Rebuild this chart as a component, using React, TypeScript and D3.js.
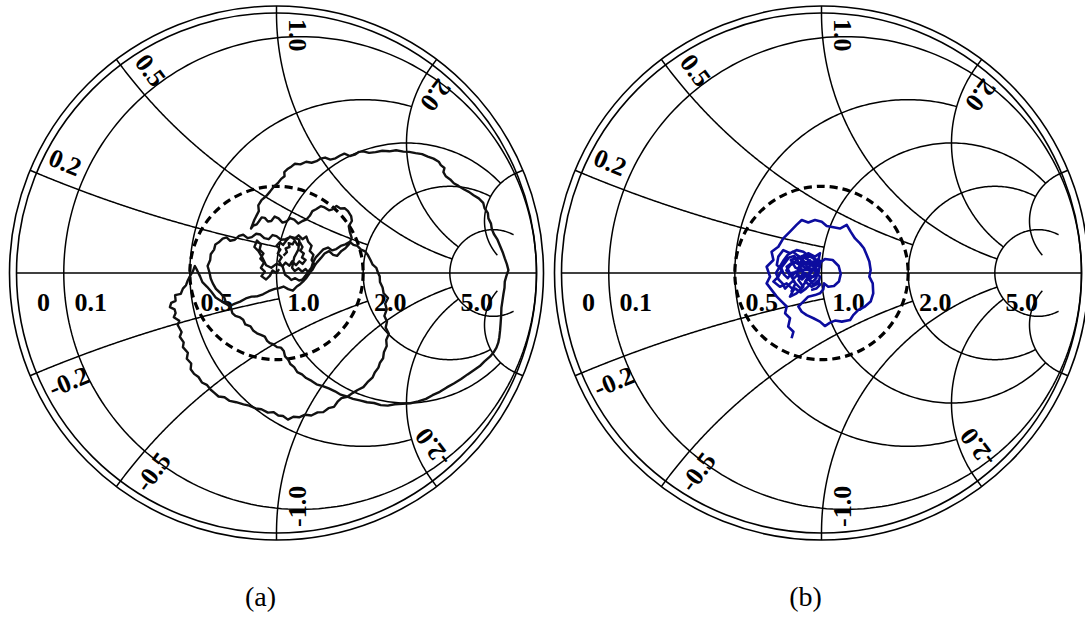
import React from 'react';
import * as d3 from 'd3';

// page + chart geometry
const width = 1085;
const height = 619;
const radius = 260;
const ringGap = 7;
const panelCenters = [276.5, 821.5];
const centerY = 273;

// Smith grid: circles and the limit up to which each one is drawn
const resistanceCircles = [0.1, 0.5, 1, 2, 5];
const resistanceLimits = [Infinity, 2, 5, 5, 10];
const reactanceArcs = [0.2, 0.5, 1, 2, 5];
const reactanceLimits = [1, 2, 5, 5, 10];

const axisTickValues = [0, 0.1, 0.5, 1, 2, 5];
const axisTickLabels = ['0', '0.1', '0.5', '1.0', '2.0', '5.0'];
const arcTickValues = [0.2, 0.5, 1, 2];
const arcTickLabels = ['0.2', '0.5', '1.0', '2.0'];

const vswrGamma = 1 / 3;
const panelLabels = ['(a)', '(b)'];
const traceColors = ['#111111', '#0c0c9e'];
const traceWidths = [2.4, 2.6];

// reflection coefficient traces, [re, im]
const traceA: [number, number][] = [
  [0.027, 0.067], [0.04, 0.08], [0.035, 0.095], [0.05, 0.1], [0.047, 0.115],
  [0.062, 0.11], [0.07, 0.125], [0.08, 0.108], [0.09, 0.118], [0.1, 0.1],
  [0.092, 0.085], [0.105, 0.075], [0.098, 0.06], [0.112, 0.05], [0.1, 0.035],
  [0.088, 0.045], [0.075, 0.03], [0.06, 0.045], [0.05, 0.028], [0.035, 0.04],
  [0.022, 0.025], [0.01, 0.045], [0.02, 0.06], [0.005, 0.075], [0.015, 0.09],
  [0.0, 0.105], [0.012, 0.118], [0.025, 0.108], [0.038, 0.125], [0.052, 0.14],
  [0.068, 0.13], [0.085, 0.145], [0.1, 0.13], [0.115, 0.14], [0.122, 0.12],
  [0.135, 0.105], [0.128, 0.085], [0.142, 0.07], [0.135, 0.05], [0.148, 0.03],
  [0.138, 0.012], [0.125, 0.0], [0.112, 0.015], [0.098, 0.005], [0.085, 0.018],
  [0.07, 0.008], [0.06, 0.02], [0.068, 0.06], [0.084, 0.09], [0.088, 0.128],
  [0.07, 0.135], [0.055, 0.139], [0.035, 0.13], [0.017, 0.128], [0.0, 0.142],
  [-0.015, 0.146], [-0.03, 0.13], [-0.047, 0.134], [-0.062, 0.148], [-0.078, 0.151],
  [-0.095, 0.138], [-0.111, 0.134], [-0.128, 0.147], [-0.144, 0.143], [-0.16, 0.128],
  [-0.178, 0.124], [-0.192, 0.137], [-0.207, 0.132], [-0.222, 0.118], [-0.235, 0.11],
  [-0.24, 0.09], [-0.253, 0.072], [-0.255, 0.05], [-0.265, 0.027], [-0.258, 0.003],
  [-0.253, -0.021], [-0.245, -0.04], [-0.233, -0.061], [-0.218, -0.075], [-0.201, -0.094],
  [-0.195, -0.112], [-0.182, -0.128], [-0.16, -0.118], [-0.14, -0.11], [-0.118, -0.098],
  [-0.096, -0.091], [-0.075, -0.09], [-0.052, -0.082], [-0.03, -0.07], [-0.007, -0.061],
  [0.01, -0.058], [0.027, -0.052], [0.045, -0.062], [0.063, -0.068], [0.078, -0.052],
  [0.091, -0.043], [0.105, -0.03], [0.115, -0.019], [0.128, 0.0], [0.138, 0.016],
  [0.155, 0.04], [0.172, 0.059], [0.185, 0.075], [0.202, 0.084], [0.218, 0.07],
  [0.233, 0.066], [0.25, 0.085], [0.265, 0.095], [0.28, 0.112], [0.289, 0.136],
  [0.282, 0.158], [0.278, 0.18], [0.29, 0.2], [0.287, 0.219], [0.275, 0.238],
  [0.263, 0.249], [0.246, 0.248], [0.231, 0.258], [0.215, 0.245], [0.202, 0.241],
  [0.185, 0.252], [0.17, 0.257], [0.152, 0.245], [0.138, 0.238], [0.128, 0.22],
  [0.114, 0.205], [0.1, 0.2], [0.084, 0.19], [0.068, 0.205], [0.052, 0.211],
  [0.038, 0.198], [0.023, 0.194], [0.008, 0.21], [-0.007, 0.217], [-0.02, 0.2],
  [-0.033, 0.198], [-0.045, 0.212], [-0.057, 0.214], [-0.068, 0.198], [-0.076, 0.187],
  [-0.09, 0.182], [-0.098, 0.171], [-0.085, 0.205], [-0.068, 0.238], [-0.07, 0.26],
  [-0.057, 0.281], [-0.04, 0.295], [-0.025, 0.313], [-0.012, 0.33], [0.007, 0.348],
  [0.018, 0.362], [0.031, 0.372], [0.03, 0.388], [0.044, 0.401], [0.058, 0.41],
  [0.071, 0.42], [0.092, 0.418], [0.114, 0.428], [0.135, 0.424], [0.154, 0.43],
  [0.17, 0.44], [0.187, 0.444], [0.207, 0.436], [0.227, 0.441], [0.245, 0.452],
  [0.261, 0.459], [0.282, 0.45], [0.301, 0.455], [0.318, 0.466], [0.334, 0.468],
  [0.356, 0.462], [0.381, 0.465], [0.407, 0.47], [0.434, 0.468], [0.46, 0.472],
  [0.488, 0.467], [0.51, 0.466], [0.535, 0.461], [0.56, 0.457], [0.582, 0.448],
  [0.604, 0.44], [0.624, 0.428], [0.632, 0.415], [0.646, 0.404], [0.642, 0.388],
  [0.651, 0.372], [0.668, 0.36], [0.682, 0.345], [0.7, 0.335], [0.722, 0.321],
  [0.74, 0.312], [0.758, 0.299], [0.778, 0.287], [0.795, 0.27], [0.8, 0.25],
  [0.813, 0.23], [0.815, 0.21], [0.825, 0.19], [0.828, 0.17], [0.836, 0.15],
  [0.85, 0.128], [0.86, 0.104], [0.87, 0.08], [0.878, 0.056], [0.886, 0.034],
  [0.892, 0.011], [0.884, -0.012], [0.878, -0.033], [0.877, -0.057], [0.873, -0.08],
  [0.869, -0.107], [0.865, -0.134], [0.864, -0.165], [0.862, -0.194], [0.86, -0.22],
  [0.857, -0.247], [0.853, -0.268], [0.846, -0.287], [0.835, -0.305], [0.822, -0.321],
  [0.8, -0.34], [0.782, -0.358], [0.76, -0.373], [0.735, -0.39], [0.71, -0.408],
  [0.682, -0.425], [0.655, -0.44], [0.628, -0.457], [0.6, -0.47], [0.575, -0.484],
  [0.545, -0.494], [0.515, -0.501], [0.485, -0.503], [0.455, -0.505], [0.428, -0.51],
  [0.401, -0.508], [0.375, -0.5], [0.348, -0.497], [0.32, -0.49], [0.294, -0.484],
  [0.27, -0.475], [0.247, -0.468], [0.225, -0.455], [0.201, -0.444], [0.178, -0.435],
  [0.154, -0.428], [0.135, -0.415], [0.114, -0.404], [0.098, -0.39], [0.08, -0.381],
  [0.068, -0.362], [0.053, -0.35], [0.045, -0.333], [0.033, -0.321], [0.028, -0.3],
  [0.017, -0.287], [0.002, -0.285], [-0.013, -0.274], [-0.025, -0.27], [-0.036, -0.261],
  [-0.045, -0.245], [-0.06, -0.238], [-0.075, -0.232], [-0.09, -0.221], [-0.1, -0.205],
  [-0.12, -0.198], [-0.128, -0.18], [-0.14, -0.171], [-0.158, -0.165], [-0.17, -0.154],
  [-0.175, -0.135], [-0.187, -0.123], [-0.21, -0.11], [-0.234, -0.094], [-0.252, -0.07],
  [-0.267, -0.053], [-0.285, -0.035], [-0.294, -0.013], [-0.305, 0.01], [-0.314, 0.027],
  [-0.322, 0.005], [-0.33, -0.007], [-0.342, -0.03], [-0.348, -0.047], [-0.36, -0.06],
  [-0.368, -0.08], [-0.39, -0.085], [-0.388, -0.107], [-0.405, -0.115], [-0.41, -0.131],
  [-0.392, -0.14], [-0.388, -0.154], [-0.395, -0.17], [-0.374, -0.184], [-0.38, -0.2],
  [-0.365, -0.227], [-0.372, -0.245], [-0.357, -0.267], [-0.36, -0.285], [-0.341, -0.307],
  [-0.345, -0.33], [-0.328, -0.348], [-0.33, -0.37], [-0.317, -0.388], [-0.3, -0.4],
  [-0.287, -0.421], [-0.268, -0.43], [-0.254, -0.448], [-0.24, -0.46], [-0.223, -0.475],
  [-0.2, -0.478], [-0.18, -0.492], [-0.155, -0.497], [-0.127, -0.505], [-0.105, -0.51],
  [-0.08, -0.521], [-0.058, -0.524], [-0.033, -0.537], [-0.012, -0.535], [0.007, -0.548],
  [0.025, -0.55], [0.044, -0.564], [0.065, -0.553], [0.087, -0.555], [0.11, -0.545],
  [0.134, -0.548], [0.158, -0.536], [0.18, -0.535], [0.2, -0.52], [0.221, -0.515],
  [0.235, -0.495], [0.25, -0.481], [0.272, -0.476], [0.294, -0.461], [0.312, -0.45],
  [0.334, -0.439], [0.35, -0.42], [0.37, -0.401], [0.378, -0.383], [0.392, -0.364],
  [0.398, -0.345], [0.41, -0.328], [0.413, -0.305], [0.424, -0.281], [0.422, -0.258],
  [0.432, -0.234], [0.42, -0.21], [0.425, -0.187], [0.415, -0.165], [0.424, -0.14],
  [0.418, -0.118], [0.429, -0.096], [0.412, -0.078], [0.408, -0.056], [0.398, -0.035],
  [0.397, -0.013], [0.39, 0.002], [0.384, 0.02], [0.37, 0.032], [0.361, 0.051],
  [0.352, 0.068], [0.341, 0.083], [0.325, 0.09], [0.311, 0.104], [0.296, 0.108],
  [0.282, 0.12], [0.265, 0.11], [0.247, 0.104], [0.23, 0.092], [0.214, 0.087],
  [0.198, 0.098], [0.18, 0.091], [0.165, 0.075], [0.151, 0.06], [0.14, 0.04],
  [0.134, 0.02], [0.122, 0.005], [0.111, -0.011], [0.1, -0.025], [0.087, -0.029],
  [0.072, -0.02], [0.057, -0.027], [0.045, -0.015], [0.033, -0.007], [0.028, 0.01],
  [0.023, 0.027], [0.0, 0.035], [-0.02, 0.02], [-0.04, 0.03], [-0.055, 0.06],
  [-0.07, 0.085], [-0.085, 0.1], [-0.075, 0.125], [-0.06, 0.11], [-0.065, 0.09],
  [-0.05, 0.075], [-0.062, 0.055], [-0.048, 0.04], [-0.06, 0.02], [-0.045, 0.005],
  [-0.058, -0.012], [-0.04, -0.025], [-0.025, -0.01], [-0.015, 0.01], [0.0, 0.0],
  [0.01, 0.015],
];

const traceB: [number, number][] = [
  [-0.115, -0.251], [-0.108, -0.226], [-0.128, -0.206], [-0.121, -0.174], [-0.14, -0.155],
  [-0.134, -0.129], [-0.153, -0.11], [-0.172, -0.091], [-0.192, -0.065], [-0.211, -0.04],
  [-0.198, -0.014], [-0.211, 0.024], [-0.185, 0.05], [-0.192, 0.082], [-0.166, 0.101],
  [-0.147, 0.133], [-0.121, 0.159], [-0.096, 0.185], [-0.076, 0.204], [-0.051, 0.194],
  [-0.025, 0.204], [0.001, 0.197], [0.02, 0.181], [0.046, 0.176], [0.071, 0.171],
  [0.097, 0.185], [0.112, 0.159], [0.129, 0.133], [0.148, 0.114], [0.163, 0.095],
  [0.174, 0.069], [0.184, 0.044], [0.189, 0.012], [0.184, -0.014], [0.197, -0.04],
  [0.199, -0.078], [0.189, -0.11], [0.167, -0.129], [0.142, -0.142], [0.122, -0.162],
  [0.11, -0.181], [0.078, -0.187], [0.052, -0.183], [0.033, -0.191], [0.013, -0.204],
  [-0.006, -0.187], [-0.031, -0.174], [-0.057, -0.162], [-0.076, -0.149], [-0.089, -0.129],
  [-0.07, -0.11], [-0.051, -0.091], [-0.025, -0.085], [-0.006, -0.078], [0.007, -0.063],
  [0.01, -0.04], [0.026, -0.053], [0.048, -0.05], [0.067, -0.033], [0.074, -0.004],
  [0.066, 0.027], [0.043, 0.05], [0.013, 0.054], [0.001, 0.044], [-0.019, 0.05],
  [-0.044, 0.063], [-0.07, 0.082], [-0.096, 0.088], [-0.121, 0.076], [-0.147, 0.088],
  [-0.166, 0.063], [-0.172, 0.031], [-0.153, 0.012], [-0.166, -0.014], [-0.185, -0.033],
  [-0.16, -0.053], [-0.134, -0.04], [-0.108, -0.065], [-0.121, -0.091], [-0.096, -0.078],
  [-0.07, -0.053], [-0.089, -0.027], [-0.063, -0.001], [-0.044, -0.021], [-0.019, -0.008],
  [-0.006, 0.024], [-0.031, 0.037], [-0.057, 0.018], [-0.083, 0.031], [-0.108, 0.044],
  [-0.134, 0.024], [-0.121, -0.001], [-0.096, -0.001], [-0.076, 0.05], [-0.051, 0.076],
  [-0.025, 0.063], [-0.006, 0.076], [-0.016, 0.031], [-0.038, 0.005], [-0.063, -0.033],
  [-0.038, -0.053], [-0.012, -0.04], [-0.006, -0.014], [-0.031, 0.012], [-0.07, 0.012],
  [-0.1, 0.02], [-0.118, 0.05], [-0.09, 0.06], [-0.06, 0.04], [-0.02, 0.02],
  [-0.115, 0.0], [-0.13, -0.02], [-0.145, -0.005], [-0.155, 0.02], [-0.14, 0.04],
  [-0.125, 0.06], [-0.105, 0.065], [-0.09, 0.045], [-0.075, 0.025], [-0.06, 0.04],
  [-0.045, 0.05], [-0.03, 0.03], [-0.015, 0.01], [-0.02, -0.02], [-0.035, -0.035],
  [-0.05, -0.02], [-0.065, -0.04], [-0.08, -0.06], [-0.095, -0.045], [-0.11, -0.03],
  [-0.125, -0.045], [-0.14, -0.06], [-0.15, -0.04], [-0.165, -0.025], [-0.175, 0.0],
  [-0.16, 0.025], [-0.145, 0.05], [-0.13, 0.07], [-0.11, 0.082], [-0.095, 0.07],
  [-0.08, 0.06], [-0.065, 0.07], [-0.045, 0.04], [-0.025, 0.045], [-0.01, 0.055],
  [-0.005, 0.035], [-0.012, 0.0], [-0.025, -0.025], [-0.045, -0.045], [-0.06, -0.06],
  [-0.08, -0.075], [-0.1, -0.06], [-0.115, -0.07], [-0.1, -0.04], [-0.115, -0.015],
  [-0.1, 0.005], [-0.085, -0.02], [-0.07, 0.0], [-0.085, 0.025], [-0.07, 0.045],
  [-0.055, 0.025], [-0.04, 0.015], [-0.05, -0.005], [-0.035, -0.015], [-0.02, 0.0],
  [-0.03, 0.02], [-0.015, 0.035], [-0.03, 0.055], [-0.045, 0.065], [-0.06, 0.055],
  [-0.075, 0.065], [-0.09, 0.055], [-0.105, 0.04], [-0.12, 0.03], [-0.135, 0.01],
  [-0.12, -0.01], [-0.105, -0.02], [-0.09, -0.005], [-0.075, -0.025], [-0.06, -0.01],
  [-0.045, -0.03], [-0.03, -0.045], [-0.015, -0.03], [-0.005, -0.045], [-0.02, -0.06],
  [-0.04, -0.065],
];

const traces = [traceA, traceB];

const toGamma = (r: number, x: number): [number, number] => {
  if (!isFinite(r)) return [1, 0];
  const d = (r + 1) * (r + 1) + x * x;
  return [(r * r + x * x - 1) / d, (2 * x) / d];
};

const arcPoints = (c: [number, number], rho: number, a0: number, a1: number) =>
  d3.range(0, 241).map(i => {
    const a = a0 + ((a1 - a0) * i) / 240;
    return [c[0] + rho * Math.cos(a), c[1] + rho * Math.sin(a)] as [number, number];
  });

const resistancePoints = (r: number, limit: number) => {
  const c: [number, number] = [r / (1 + r), 0];
  const rho = 1 / (1 + r);
  if (!isFinite(limit)) return arcPoints(c, rho, 0, 2 * Math.PI);
  const p = toGamma(r, limit);
  const phi = Math.atan2(p[1], p[0] - c[0]);
  return arcPoints(c, rho, phi, 2 * Math.PI - phi);
};

const reactancePoints = (x: number, limit: number) => {
  const c: [number, number] = [1, 1 / x];
  const rho = 1 / Math.abs(x);
  const p0 = toGamma(0, x);
  const p1 = toGamma(limit, x);
  const a0 = Math.atan2(p0[1] - c[1], p0[0] - c[0]);
  const a1 = Math.atan2(p1[1] - c[1], p1[0] - c[0]);
  let delta = a1 - a0;
  while (delta > Math.PI) delta -= 2 * Math.PI;
  while (delta <= -Math.PI) delta += 2 * Math.PI;
  return arcPoints(c, rho, a0, a0 + delta);
};

const font = '"Liberation Serif", "Times New Roman", serif';

const SmithPanel = ({ cx, trace, color, strokeWidth, label }: {
  cx: number; trace: [number, number][]; color: string; strokeWidth: number; label: string;
}) => {
  const sx = d3.scaleLinear().domain([-1, 1]).range([cx - radius, cx + radius]);
  const sy = d3.scaleLinear().domain([-1, 1]).range([centerY + radius, centerY - radius]);
  const line = d3.line<[number, number]>().x(d => sx(d[0])).y(d => sy(d[1]));

  const gridPaths: string[] = [];
  resistanceCircles.forEach((r, i) => gridPaths.push(line(resistancePoints(r, resistanceLimits[i])) || ''));
  reactanceArcs.forEach((x, i) => {
    gridPaths.push(line(reactancePoints(x, reactanceLimits[i])) || '');
    gridPaths.push(line(reactancePoints(-x, reactanceLimits[i])) || '');
  });

  const ticks = reactanceArcs.flatMap(x => [x, -x]).map(x => {
    const p = toGamma(0, x);
    const k = (radius + ringGap) / radius;
    return { x1: sx(p[0]), y1: sy(p[1]), x2: sx(p[0] * k), y2: sy(p[1] * k) };
  });

  const arcLabels = arcTickValues.flatMap((x, i) => [
    { x, text: arcTickLabels[i], up: true },
    { x: -x, text: '-' + arcTickLabels[i], up: false },
  ]).map(d => {
    const p = toGamma(0, d.x);
    const px = sx(p[0]);
    const py = sy(p[1]);
    const angle = (Math.atan2(centerY - py, cx - px) * 180) / Math.PI;
    return { ...d, px, py, angle };
  });

  return (
    <g>
      <circle cx={cx} cy={centerY} r={radius + ringGap} fill="none" stroke="#000" strokeWidth={1.6} />
      <circle cx={cx} cy={centerY} r={radius} fill="none" stroke="#000" strokeWidth={1.6} />
      <line x1={sx(-1)} x2={sx(1)} y1={sy(0)} y2={sy(0)} stroke="#000" strokeWidth={1.6} />
      {gridPaths.map((d, i) => (
        <path key={`g-${i}`} d={d} fill="none" stroke="#000" strokeWidth={1.5} />
      ))}
      {ticks.map((t, i) => (
        <line key={`t-${i}`} {...t} stroke="#000" strokeWidth={1.5} />
      ))}
      <circle cx={cx} cy={centerY} r={sx(vswrGamma) - sx(0)} fill="none" stroke="#000"
        strokeWidth={3.2} strokeDasharray="8 5" />
      {axisTickValues.map((r, i) => (
        <text key={`a-${i}`} x={sx(toGamma(r, 0)[0]) + 27} y={centerY + 38}
          textAnchor="middle" fontFamily={font} fontWeight="bold" fontSize={26}>
          {axisTickLabels[i]}
        </text>
      ))}
      {arcLabels.map((d, i) => (
        <text key={`x-${i}`} transform={`translate(${d.px},${d.py}) rotate(${d.angle})`}
          x={6} y={d.up ? -12 : 29} fontFamily={font} fontWeight="bold" fontSize={26}>
          {d.text}
        </text>
      ))}
      <path d={line(trace) || ''} fill="none" stroke={color} strokeWidth={strokeWidth}
        strokeLinejoin="round" />
      <text x={cx - 16} y={606} textAnchor="middle" fontFamily={font} fontSize={28}>
        {label}
      </text>
    </g>
  );
};

const App = () => (
  <div style={{ position: 'absolute', left: 0, top: 0, width, height, background: '#fff' }}>
    <svg width={width} height={height} viewBox={`0 0 ${width} ${height}`}>
      {panelCenters.map((cx, i) => (
        <SmithPanel key={i} cx={cx} trace={traces[i]} color={traceColors[i]}
          strokeWidth={traceWidths[i]} label={panelLabels[i]} />
      ))}
    </svg>
  </div>
);

export default App;
